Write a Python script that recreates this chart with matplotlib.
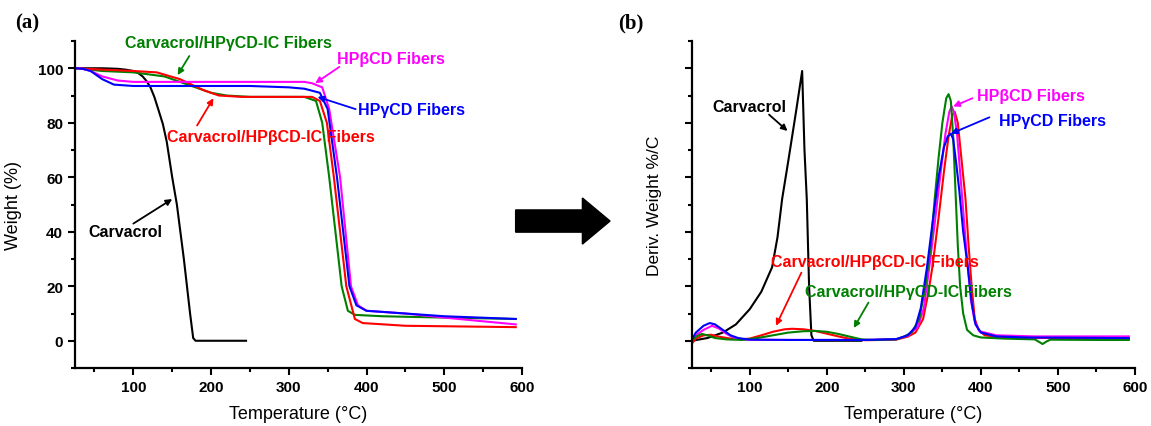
import numpy as np
import matplotlib.pyplot as plt
from matplotlib.patches import FancyArrow
from matplotlib.ticker import MultipleLocator

plt.rcParams['font.family'] = ['Liberation Sans', 'DejaVu Sans']

# ---- (a) TGA weight curves (temperature, weight %) ----
carv_T = [25, 60, 80, 90, 100, 106, 112, 117, 122, 127, 132, 138, 143, 150, 156, 165, 173, 177, 180, 245]
carv_W = [100, 100, 99.8, 99.5, 99, 98.3, 97, 95.3, 93, 89.5, 85, 79.5, 73, 60, 50, 30, 10, 1, 0, 0]

beta_T = [27, 35, 45, 60, 80, 100, 200, 320, 330, 343, 352, 366, 373, 380, 389, 400, 450, 500, 592]
beta_W = [100, 99.8, 99, 97, 95.5, 95, 95, 95, 94.5, 93, 85, 60, 40, 20, 13, 11, 10, 8.5, 6]

gam_T = [27, 35, 45, 60, 75, 100, 250, 300, 320, 340, 350, 362, 370, 378, 387, 400, 450, 500, 592]
gam_W = [100, 99.8, 99, 96, 94, 93.5, 93.5, 93, 92.5, 91, 85, 60, 40, 20, 13, 11, 10, 9, 8]

ic_beta_T = [27, 60, 100, 130, 160, 190, 210, 240, 330, 340, 349, 358, 366, 374, 385, 395, 450, 592]
ic_beta_W = [100, 99.5, 99, 98.5, 96, 92, 90, 89.5, 89.5, 88, 80, 60, 40, 20, 8, 6.5, 5.5, 5]

ic_gam_T = [27, 60, 100, 140, 170, 200, 220, 250, 320, 335, 343, 352, 360, 368, 376, 385, 420, 500, 592]
ic_gam_W = [100, 99, 98.5, 97, 94, 91, 90, 89.5, 89.5, 88, 80, 60, 40, 20, 11, 9.5, 9, 8.5, 8]

# ---- (b) DTG curves (temperature, arbitrary units) ----
dcarv_T = [25, 45, 65, 82, 100, 115, 129, 136, 142, 150, 160, 168, 171, 174, 177, 180, 183, 245]
dcarv_D = [0, 1, 3, 6, 11.6, 18, 27, 38, 52, 66, 84, 99, 70, 52, 20, 2, 0, 0]

dbeta_T = [25, 30, 40, 51, 60, 70, 80, 95, 150, 250, 290, 305, 318, 326, 333, 340, 347, 354,
           359, 362, 365, 369, 373, 377, 382, 387, 392, 398, 420, 470, 592]
dbeta_D = [0, 2, 4, 5.5, 4.5, 2.5, 1, 0.4, 0.3, 0.3, 0.6, 1.8, 5, 12, 27, 43, 60, 76,
           84, 86, 84, 76, 62, 48, 30, 15, 7, 3.5, 2, 1.6, 1.6]

dgam_T = [25, 30, 40, 48, 55, 65, 75, 85, 100, 150, 250, 290, 305, 315, 322, 330, 338, 345,
          352, 357, 361, 364, 368, 372, 377, 383, 388, 393, 400, 420, 460, 592]
dgam_D = [0.5, 3, 5.5, 6.5, 6, 4, 2, 1, 0.4, 0.3, 0.3, 0.6, 2, 5, 12, 27, 45, 60,
          71, 75, 76, 74, 65, 55, 40, 27, 14, 6, 3, 1.6, 1.2, 1.0]

dicb_T = [25, 30, 40, 50, 60, 75, 90, 100, 115, 130, 145, 155, 170, 185, 200, 215, 230, 250,
          290, 305, 315, 325, 332, 337, 345, 352, 358, 363, 366, 370, 375, 380, 384, 388,
          392, 397, 405, 430, 500, 592]
dicb_D = [-1, 0.8, 2, 2.2, 1.5, 0.8, 0.6, 0.8, 2, 3.3, 4.2, 4.4, 4.2, 3.6, 2.6, 1.6, 0.7, 0.2,
          0.4, 1.5, 3, 8, 18, 27, 45, 62, 75, 83, 84, 80, 66, 52, 35, 20,
          8, 4, 2, 1.2, 1, 0.8]

dicg_T = [25, 30, 38, 45, 55, 70, 90, 110, 130, 150, 170, 185, 200, 215, 230, 245, 260, 290,
          300, 310, 320, 328, 335, 340, 345, 350, 355, 358, 361, 364, 367, 370, 373, 377,
          382, 390, 400, 430, 470, 476, 480, 485, 490, 550, 592]
dicg_D = [0, 1.5, 2.5, 2, 1, 0.5, 0.3, 1, 2, 3, 3.5, 3.6, 3.3, 2.5, 1.5, 0.5, 0.3, 0.5,
          1.5, 3, 8, 20, 35, 52, 67, 80, 89, 90.5, 88, 75, 55, 35, 20, 10,
          4, 2, 1.2, 0.8, 0.5, -0.5, -1.2, -0.3, 0.4, 0.3, 0.3]

BLACK, MAG, BLUE, RED, GREEN = 'black', '#ff00ff', '#0000ff', '#ff0000', '#008000'

fig = plt.figure(figsize=(11.51, 4.27), dpi=100)
ax1 = fig.add_axes([0.0652, 0.1358, 0.3883, 0.7658])
ax2 = fig.add_axes([0.6012, 0.1358, 0.3849, 0.7658])

lw = 1.5
ax1.plot(carv_T, carv_W, color=BLACK, lw=lw)
ax1.plot(ic_gam_T, ic_gam_W, color=GREEN, lw=lw)
ax1.plot(ic_beta_T, ic_beta_W, color=RED, lw=lw)
ax1.plot(beta_T, beta_W, color=MAG, lw=lw)
ax1.plot(gam_T, gam_W, color=BLUE, lw=lw)

ax2.plot(dcarv_T, dcarv_D, color=BLACK, lw=lw)
ax2.plot(dicb_T, dicb_D, color=RED, lw=lw)
ax2.plot(dbeta_T, dbeta_D, color=MAG, lw=lw)
ax2.plot(dicg_T, dicg_D, color=GREEN, lw=lw)
ax2.plot(dgam_T, dgam_D, color=BLUE, lw=lw)

for ax in (ax1, ax2):
    ax.set_xlim(25, 600)
    ax.set_ylim(-10, 110)
    ax.xaxis.set_major_locator(MultipleLocator(100))
    ax.xaxis.set_minor_locator(MultipleLocator(50))
    ax.yaxis.set_major_locator(MultipleLocator(20))
    ax.yaxis.set_minor_locator(MultipleLocator(10))
    for s in ('top', 'right'):
        ax.spines[s].set_visible(False)
    for s in ('left', 'bottom'):
        ax.spines[s].set_linewidth(1.6)
    ax.tick_params(which='major', direction='out', length=5, width=1.5, labelsize=11)
    ax.tick_params(which='minor', direction='out', length=3, width=1.5)
    for lab in ax.get_xticklabels() + ax.get_yticklabels():
        lab.set_fontweight('bold')
    ax.set_xlabel('Temperature (°C)', fontsize=13, va='center')
    ax.xaxis.set_label_coords(0.5, -0.14)

ax1.set_yticks([0, 20, 40, 60, 80, 100])
ax1.set_ylabel('Weight (%)', fontsize=13)
ax1.yaxis.set_label_coords(-0.119, 0.5)
ax2.set_yticklabels([])
ax2.set_ylabel('Deriv. Weight %/C', fontsize=12.5)
ax2.yaxis.set_label_coords(-0.068, 0.5)

fig.text(0.013, 0.946, '(a)', fontsize=15, fontweight='bold', family='Liberation Serif',
         va='center')
fig.text(0.537, 0.946, '(b)', fontsize=15, fontweight='bold', family='Liberation Serif',
         va='center')

ARROW = dict(arrowstyle='-|>', lw=1.3, mutation_scale=9, shrinkA=0, shrinkB=0)


def lab(ax, text, color, xy, xytext, tail):
    ax.text(xytext[0], xytext[1], text, color=color, fontsize=11.5, fontweight='bold',
            va='center', ha='left', clip_on=False)
    ax.annotate('', xy=xy, xytext=tail, annotation_clip=False,
                arrowprops=dict(color=color, **ARROW))


# panel (a) labels
lab(ax1, 'Carvacrol/HPγCD-IC Fibers', GREEN, (157, 97.5), (89, 109.5), (172, 104.5))
lab(ax1, 'HPβCD Fibers', MAG, (334, 94.5), (362, 103.6), (365, 100.5))
lab(ax1, 'HPγCD Fibers', BLUE, (337, 89.5), (389, 84.7), (386, 85))
lab(ax1, 'Carvacrol/HPβCD-IC Fibers', RED, (203, 89), (143, 75), (182, 79))
lab(ax1, 'Carvacrol', BLACK, (150, 52), (42, 40), (100, 43))

# panel (b) labels
lab(ax2, 'Carvacrol', BLACK, (149, 77), (52, 86), (125, 83))
lab(ax2, 'HPβCD Fibers', MAG, (364, 86), (395, 90), (389, 89))
lab(ax2, 'HPγCD Fibers', BLUE, (361, 76), (424, 81), (411, 82))
lab(ax2, 'Carvacrol/HPβCD-IC Fibers', RED, (134, 5.5), (128, 29), (167, 25))
lab(ax2, 'Carvacrol/HPγCD-IC Fibers', GREEN, (235, 4.7), (172, 18), (254, 14))

# big arrow between the panels
fig.patches.append(FancyArrow(0.448, 0.48, 0.058, 0, width=0.052, head_width=0.108,
                              head_length=0.024, length_includes_head=False,
                              color='black', transform=fig.transFigure, figure=fig))

fig.savefig('out.png', dpi=100)
